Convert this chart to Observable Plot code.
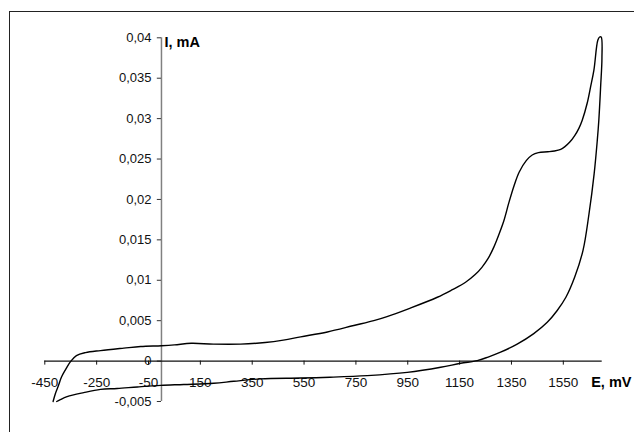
<!DOCTYPE html>
<html>
<head>
<meta charset="utf-8">
<script src="https://cdn.jsdelivr.net/npm/d3@7"></script>
<script src="https://cdn.jsdelivr.net/npm/@observablehq/plot@0.6"></script>
<style>
  html, body { margin: 0; padding: 0; background: #fff; overflow: hidden; }
  #wrap { position: relative; width: 634px; height: 432px; }
  #frame { position: absolute; left: 9px; top: 11px; width: 700px; height: 500px; border: 1.5px solid #222; box-sizing: border-box; }
  #chart { position: absolute; left: 0; top: 0; }
</style>
</head>
<body>
<div id="wrap"><div id="frame"></div><div id="chart"></div></div>
<script>
// Forward (anodic) scan: potential E (mV) and current I (mA)
const E_fwd = [-418, -409, -397, -386, -370, -351, -328, -293, -235, -145, -80, 0, 50, 115, 200, 305, 400, 470, 537, 640, 742, 819, 870, 955, 1064, 1120, 1173, 1210, 1236, 1260, 1282, 1302, 1321, 1340, 1360, 1380, 1407, 1430, 1454, 1490, 1516, 1540, 1555, 1575, 1594, 1610, 1623, 1642, 1655, 1668, 1683, 1690, 1696];
const I_fwd = [-0.005, -0.004, -0.003, -0.002, -0.00105, -0.00006, 0.00068, 0.00105, 0.0013, 0.0016, 0.0018, 0.0019, 0.002, 0.0022, 0.0021, 0.0021, 0.0023, 0.0026, 0.003, 0.0036, 0.0044, 0.005, 0.0055, 0.0065, 0.0079, 0.0088, 0.00975, 0.0107, 0.0116, 0.0127, 0.0141, 0.0157, 0.0174, 0.0196, 0.0217, 0.0234, 0.0248, 0.0255, 0.0258, 0.0259, 0.026, 0.0262, 0.0265, 0.0271, 0.0279, 0.0288, 0.0298, 0.0319, 0.0339, 0.036, 0.0397, 0.0401, 0.0401];
// Reverse (cathodic) scan
const E_rev = [1699, 1694, 1687, 1681, 1669, 1649, 1626, 1594, 1560, 1525, 1488, 1436, 1372, 1308, 1260, 1218, 1154, 1077, 948, 794, 650, 536, 382, 279, 202, 86, -3, -93, -171, -235, -300, -364, -392, -404];
const I_rev = [0.0375, 0.034, 0.0298, 0.0273, 0.0232, 0.0182, 0.0137, 0.0104, 0.0079, 0.0062, 0.0048, 0.0034, 0.0021, 0.0011, 0.0005, 0.00006, -0.00027, -0.00077, -0.0014, -0.0018, -0.002, -0.0021, -0.0022, -0.0025, -0.00275, -0.0029, -0.003, -0.0032, -0.0034, -0.0035, -0.0039, -0.0044, -0.0048, -0.005];

const xTicks = [-450, -250, -50, 150, 350, 550, 750, 950, 1150, 1350, 1550];
const yTicks = [-0.005, 0, 0.005, 0.01, 0.015, 0.02, 0.025, 0.03, 0.035, 0.04];
const xLabel = "E, mV";
const yLabel = "I, mA";

const curve = [
  ...E_fwd.map((e, i) => ({E: e, I: I_fwd[i]})),
  ...E_rev.map((e, i) => ({E: e, I: I_rev[i]}))
];
const fmtY = d => String(+d.toFixed(3)).replace(".", ",");

const chart = Plot.plot({
  width: 634,
  height: 432,
  margin: 0,
  x: {domain: [-450, 1700], range: [44.3, 601.7], axis: null},
  y: {domain: [-0.005, 0.04], range: [401, 37.3], axis: null},
  style: {fontFamily: "'Liberation Sans', Arial, sans-serif", fontSize: "13px", background: "transparent", overflow: "visible"},
  marks: [
    // y axis (grey) at E = 0
    Plot.ruleX([0], {y1: -0.005, y2: 0.04, stroke: "#808080", strokeWidth: 1.5}),
    Plot.ruleY(yTicks, {y: d => d, x1: -16, x2: 0, stroke: "#333", strokeWidth: 1}),
    Plot.text(yTicks, {x: 0, y: d => d, text: fmtY, dx: -10, textAnchor: "end", fill: "#111"}),
    // x axis at I = 0
    Plot.ruleY([0], {x1: -450, x2: 1700, stroke: "#111", strokeWidth: 1.2}),
    Plot.ruleX(xTicks, {x: d => d, y1: 0, y2: -0.0005, stroke: "#111", strokeWidth: 1}),
    Plot.text(xTicks, {x: d => d, y: 0, dy: 22, text: d => String(d), fill: "#111", fontSize: 13.5}),
    // curve
    Plot.line(curve, {x: "E", y: "I", stroke: "#000", strokeWidth: 1.4, curve: "catmull-rom"}),
    // axis titles
    Plot.text([yLabel], {x: 0, y: 0.04, text: d => d, dx: 3, dy: 5, textAnchor: "start", fontWeight: "bold", fontSize: 14.5, fill: "#000"}),
    Plot.text([xLabel], {x: 1700, y: 0, text: d => d, dx: -11, dy: 21, textAnchor: "start", fontWeight: "bold", fontSize: 14.5, fill: "#000"})
  ]
});
document.getElementById("chart").appendChild(chart);
</script>
</body>
</html>
